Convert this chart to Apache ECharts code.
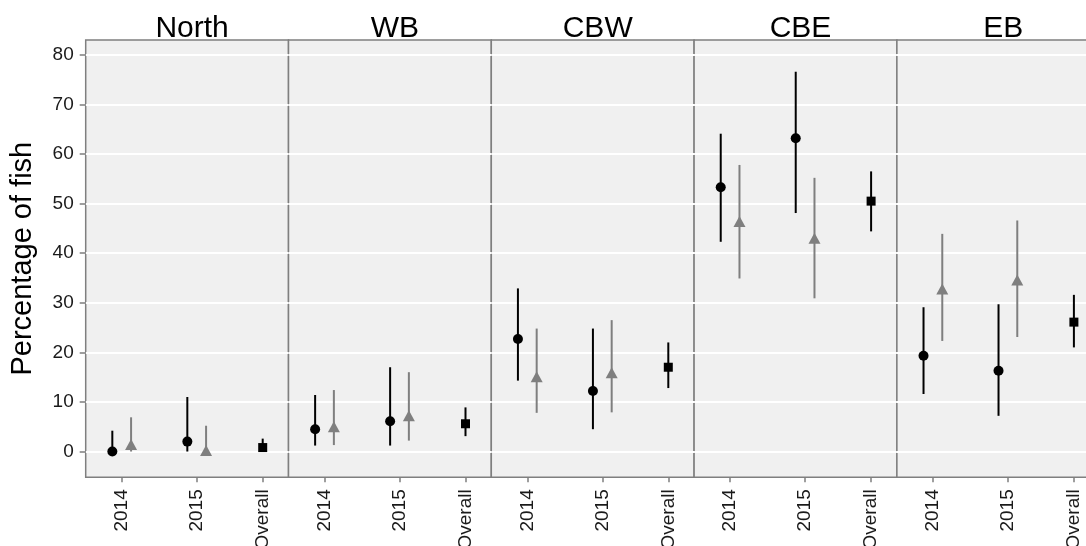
<!DOCTYPE html>
<html>
<head>
<meta charset="utf-8">
<script src="https://cdn.jsdelivr.net/npm/echarts@6/dist/echarts.min.js"></script>
<style>
  html, body { margin: 0; padding: 0; background: #fff; }
  #fishChart { width: 1086px; height: 546px; }
</style>
</head>
<body>
<div id="fishChart"></div>
<script>
// regions (facets) and x labels
const regions = ['North', 'WB', 'CBW', 'CBE', 'EB'];
const xLabels = ['2014', '2015', 'Overall'];
const yTicks = [0, 10, 20, 30, 40, 50, 60, 70, 80];

// black circles, per region [2014, 2015]
const circleMid  = [[0, 2.0], [4.5, 6.1], [22.7, 12.2], [53.3, 63.2], [19.3, 16.3]];
const circleLow  = [[0, 0], [1.2, 1.2], [14.3, 4.5], [42.3, 48.1], [11.6, 7.2]];
const circleHigh = [[4.2, 11.0], [11.4, 17.0], [32.9, 24.8], [64.1, 76.6], [29.1, 29.7]];

// grey triangles, per region [2014, 2015]
const triMid  = [[1.4, 0.2], [5.0, 7.2], [15.1, 15.9], [46.4, 43.0], [32.8, 34.6]];
const triLow  = [[0, 0], [1.3, 2.2], [7.8, 7.9], [34.9, 30.9], [22.3, 23.1]];
const triHigh = [[6.9, 5.2], [12.4, 16.0], [24.8, 26.5], [57.8, 55.2], [43.9, 46.6]];

// black squares, overall per region
const overallMid  = [0.8, 5.6, 17.0, 50.5, 26.1];
const overallLow  = [0.1, 3.1, 12.8, 44.4, 21.0];
const overallHigh = [2.6, 8.9, 22.0, 56.5, 31.6];

// layout
const xPos = [1, 2, 2.88];
const dodge = 0.125;
const panelLeft = 85.7, panelW = 202.8, panelTop = 40, panelH = 437.3;
const font = 'Liberation Sans, Arial, sans-serif';
const grey = '#7f7f7f';

function errorBar(params, api) {
  var hi = api.coord([api.value(0), api.value(2)]);
  var lo = api.coord([api.value(0), api.value(1)]);
  return {
    type: 'line',
    shape: { x1: hi[0], y1: hi[1], x2: lo[0], y2: lo[1] },
    style: { stroke: api.visual('color'), lineWidth: 2 }
  };
}

var grids = [], xAxes = [], yAxes = [], titles = [], series = [];

regions.forEach(function (name, i) {
  var left = panelLeft + i * panelW;
  grids.push({
    left: left, top: panelTop, width: panelW, height: panelH,
    outerBoundsMode: 'none', containLabel: false,
    show: true, backgroundColor: '#f0f0f0', borderColor: grey, borderWidth: 1.5
  });
  titles.push({
    text: name, left: left + panelW / 2, top: 9, textAlign: 'center',
    textStyle: { fontFamily: font, fontSize: 30, fontWeight: 'normal', color: '#000' }
  });
  xAxes.push({
    gridIndex: i, type: 'value', min: 0.52, max: 0.52 + panelW / 75,
    axisLine: { show: false, onZero: false },
    splitLine: { show: false },
    axisTick: { show: true, length: 5, customValues: xPos, lineStyle: { color: grey, width: 1.5 } },
    axisLabel: {
      customValues: xPos, rotate: 90, margin: 12,
      fontFamily: font, fontSize: 19, color: '#1a1a1a',
      formatter: function (v) {
        for (var k = 0; k < xPos.length; k++) {
          if (Math.abs(v - xPos[k]) < 0.01) return xLabels[k];
        }
        return '';
      }
    }
  });
  yAxes.push({
    gridIndex: i, type: 'value', min: -5.2, max: 83,
    name: i === 0 ? 'Percentage of fish' : '',
    nameLocation: 'middle', nameGap: 48,
    nameTextStyle: { fontFamily: font, fontSize: 29, color: '#000' },
    axisLine: { show: false, onZero: false },
    axisTick: { show: i === 0, length: 6, customValues: yTicks, lineStyle: { color: grey, width: 1.5 } },
    axisLabel: { show: i === 0, customValues: yTicks, margin: 12, fontFamily: font, fontSize: 19, color: '#1a1a1a' },
    splitLine: { show: true, lineStyle: { color: '#ffffff', width: 2 } }
  });

  var circleBars = [], circlePts = [], triBars = [], triPts = [];
  for (var y = 0; y < 2; y++) {
    circleBars.push([xPos[y] - dodge, circleLow[i][y], circleHigh[i][y]]);
    circlePts.push([xPos[y] - dodge, circleMid[i][y]]);
    triBars.push([xPos[y] + dodge, triLow[i][y], triHigh[i][y]]);
    triPts.push([xPos[y] + dodge, triMid[i][y]]);
  }
  var overallBars = [[xPos[2], overallLow[i], overallHigh[i]]];
  var overallPts = [[xPos[2], overallMid[i]]];

  series.push(
    { type: 'custom', xAxisIndex: i, yAxisIndex: i, renderItem: errorBar, data: circleBars,
      encode: { x: 0, y: [1, 2] }, itemStyle: { color: '#000' }, z: 2, silent: true },
    { type: 'custom', xAxisIndex: i, yAxisIndex: i, renderItem: errorBar, data: triBars,
      encode: { x: 0, y: [1, 2] }, itemStyle: { color: grey }, z: 2, silent: true },
    { type: 'custom', xAxisIndex: i, yAxisIndex: i, renderItem: errorBar, data: overallBars,
      encode: { x: 0, y: [1, 2] }, itemStyle: { color: '#000' }, z: 2, silent: true },
    { type: 'scatter', xAxisIndex: i, yAxisIndex: i, data: circlePts, symbol: 'circle', symbolSize: 10,
      itemStyle: { color: '#000', opacity: 1 }, z: 3 },
    { type: 'scatter', xAxisIndex: i, yAxisIndex: i, data: triPts, symbol: 'triangle', symbolSize: [12, 11],
      itemStyle: { color: grey, opacity: 1 }, z: 3 },
    { type: 'scatter', xAxisIndex: i, yAxisIndex: i, data: overallPts, symbol: 'rect', symbolSize: 9,
      itemStyle: { color: '#000', opacity: 1 }, z: 3 }
  );
});

var fishChart = echarts.init(document.getElementById('fishChart'));
fishChart.setOption({
  animation: false,
  title: titles,
  grid: grids,
  xAxis: xAxes,
  yAxis: yAxes,
  series: series
});
</script>
</body>
</html>
